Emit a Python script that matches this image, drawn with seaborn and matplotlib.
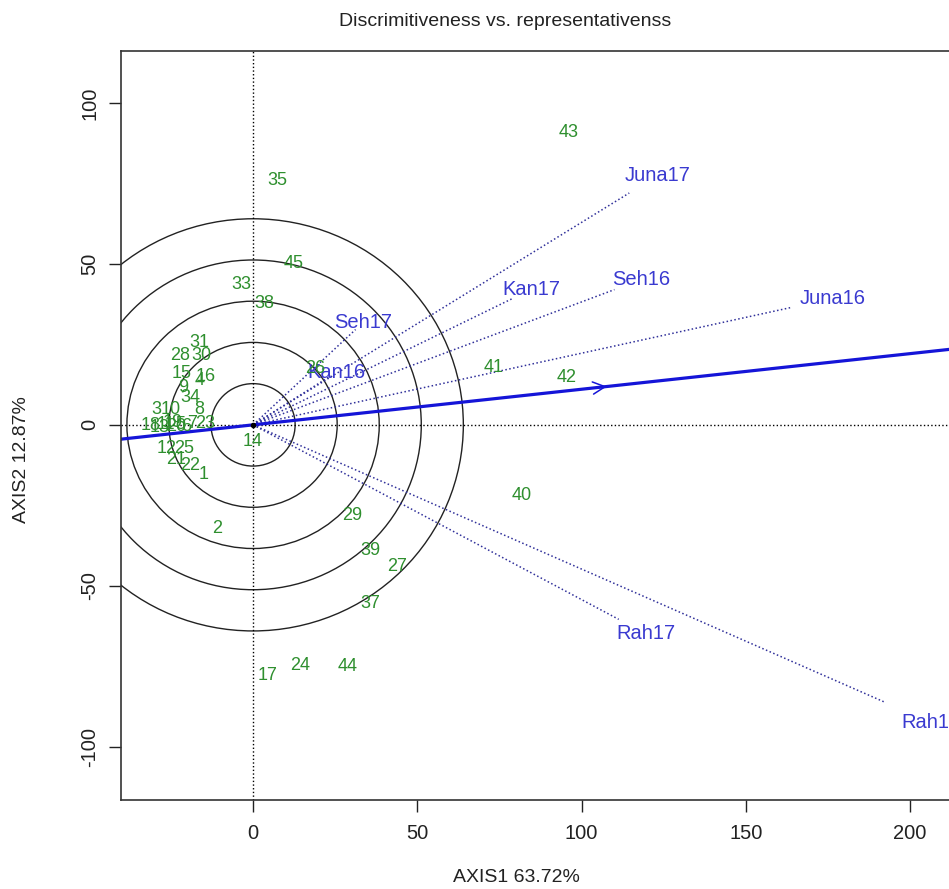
"""
GGE biplot: discriminitiveness vs. representativeness view
"""

import matplotlib
matplotlib.use('Agg')
import matplotlib.pyplot as plt
from matplotlib.patches import Circle
import seaborn as sns

sns.set_theme(style='ticks')
plt.rcParams['font.family'] = ['Liberation Sans', 'DejaVu Sans']

title = 'Discrimitiveness vs. representativenss'
x_label = 'AXIS1 63.72%'
y_label = 'AXIS2 12.87%'

# Environment vectors (end points on the biplot)
env_names = ['Juna17', 'Juna16', 'Seh16', 'Kan17', 'Seh17', 'Kan16', 'Rah17', 'Rah16']
env_x = [114.5, 164.0, 110.0, 78.7, 31.2, 23.6, 111.3, 192.0]
env_y = [72.0, 36.5, 42.0, 39.1, 29.6, 15.2, -60.4, -86.0]

# Genotype scores
gen_names = ['43', '35', '45', '33', '38', '31', '28', '30', '15', '4', '16', '9', '34', '8',
             '3', '10', '18', '13', '11', '19', '5', '6', '20', '7', '23', '14', '12', '25',
             '21', '22', '1', '2', '29', '39', '27', '37', '17', '24', '44', '40', '41', '42', '26']
gen_x = [96.0, 7.3, 12.2, -3.6, 3.3, -16.4, -22.2, -15.8, -21.6, -16.4, -14.3, -21.3, -19.1, -16.4,
         -29.5, -25.2, -31.3, -28.3, -26.4, -24.6, -22.2, -20.4, -23.4, -18.5, -14.6, 0.0, -26.4, -21.0,
         -23.4, -19.1, -14.9, -10.9, 30.1, 35.6, 43.8, 35.6, 4.3, 14.3, 28.9, 81.8, 73.3, 95.4, 18.8]
gen_y = [90.8, 76.0, 50.2, 43.7, 37.8, 25.5, 21.5, 21.5, 16.0, 13.8, 15.1, 11.7, 8.6, 4.9,
         4.9, 4.9, -0.3, -0.9, 0.0, 0.6, 0.0, -0.6, -0.6, 0.3, 0.3, -5.2, -7.4, -7.4,
         -10.8, -12.6, -15.4, -32.3, -28.0, -39.1, -44.0, -55.4, -77.8, -74.8, -75.1, -21.8, 17.8, 14.8, 17.5]

circle_radii = [12.8, 25.6, 38.4, 51.2, 64.0]
aea_point = (108.5, 12.0)   # average environment
x_ticks = [0, 50, 100, 150, 200]
y_ticks = [-100, -50, 0, 50, 100]

fig = plt.figure(figsize=(9.49, 8.89), dpi=100)
ax = fig.add_axes([121 / 949, 1 - 800 / 889, (965 - 121) / 949, (800 - 51) / 889])
ax.set_xlim(-40.2, 216.7)
ax.set_ylim(-116.5, 116.1)

# reference axes
ax.axhline(0, color='black', linestyle=':', linewidth=1)
ax.axvline(0, color='black', linestyle=':', linewidth=1)

# concentric circles
for r in circle_radii:
    ax.add_patch(Circle((0, 0), r, fill=False, edgecolor='#222222', linewidth=1))

# environment vectors
for name, x, y in zip(env_names, env_x, env_y):
    ax.plot([0, x], [0, y], color='#30309a', linestyle=(0, (1, 1.6)), linewidth=1.1)
    ax.text(x * 1.075, y * 1.075, name, color='#3a3ad0', fontsize=14.5, ha='center', va='center')

# average environment axis
slope = aea_point[1] / aea_point[0]
xl = ax.get_xlim()
sns.lineplot(x=list(xl), y=[xl[0] * slope, xl[1] * slope], color='#1515d8', linewidth=2.3, ax=ax)
ax.annotate('', xy=aea_point, xytext=(aea_point[0] - 8, (aea_point[0] - 8) * slope),
            arrowprops=dict(arrowstyle='->', color='#1515d8', lw=1.1, mutation_scale=22))
ax.plot(0, 0, 'o', color='black', markersize=3)

# genotypes
for name, x, y in zip(gen_names, gen_x, gen_y):
    ax.text(x, y, name, color='#2e8f2e', fontsize=13, ha='center', va='center')

ax.set_xticks(x_ticks)
ax.set_yticks(y_ticks)
ax.set_xticklabels([str(t) for t in x_ticks], fontsize=14.5)
ax.set_yticklabels([str(t) for t in y_ticks], fontsize=14.5, rotation=90, va='center')
ax.tick_params(axis='both', length=8.5, width=1, color='#222222', labelcolor='#222222')
ax.tick_params(axis='x', pad=9)
ax.tick_params(axis='y', pad=7)
ax.spines['right'].set_visible(False)
for s in ['left', 'bottom', 'top']:
    ax.spines[s].set_color('#333333')
    ax.spines[s].set_linewidth(1.2)

fig.text(505 / 949, 1 - 22 / 889, title, ha='center', va='center', fontsize=14, color='#222222')
fig.text(516 / 949, 1 - 878 / 889, x_label, ha='center', va='center', fontsize=14, color='#222222')
fig.text(22 / 949, 1 - 460 / 889, y_label, ha='center', va='center', fontsize=14,
         rotation=90, color='#222222')

fig.savefig('out.png', dpi=100)
